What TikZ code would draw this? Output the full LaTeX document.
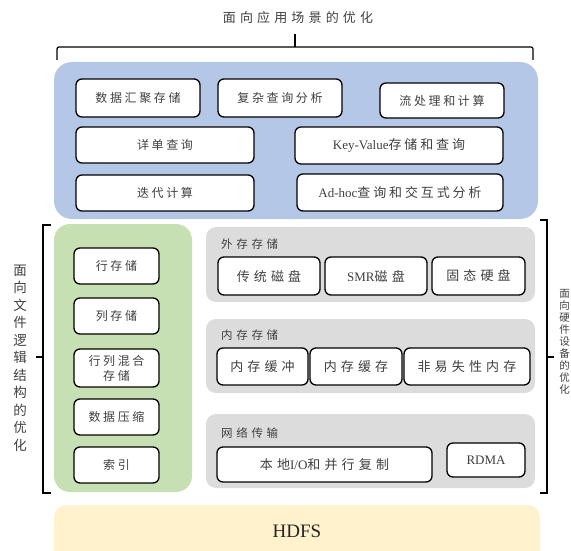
\documentclass[tikz,border=0pt]{standalone}
\usepackage{fontspec}
\setmainfont{Liberation Serif}
\newfontfamily\cj[LetterSpace=22]{Noto Sans CJK SC}
\newfontfamily\cjw[LetterSpace=32]{Noto Sans CJK SC}
\newfontfamily\cjn{Noto Sans CJK SC}
\definecolor{bluebg}{HTML}{B4C7E7}
\definecolor{greenbg}{HTML}{C6E0B4}
\definecolor{graybg}{HTML}{DCDCDC}
\definecolor{hdfsbg}{HTML}{FFF2CC}
\definecolor{txt}{HTML}{404040}
\begin{document}
\begin{tikzpicture}[x=1pt,y=-1pt,
  box/.style={draw=black, line width=1.3pt, rounded corners=6pt, fill=white, inner sep=0pt, text=txt, font=\fontsize{12}{14}\selectfont},
  gbox/.style={box, font=\fontsize{13}{15}\selectfont},
  plabel/.style={anchor=west, text=txt, inner sep=0pt, font=\fontsize{11.5}{13}\selectfont},
  brk/.style={line width=1.2pt, draw=black}]
\useasboundingbox (0,0) rectangle (571,551);
\clip (0,0) rectangle (571,551);
% title and top brace
\node[text=txt, font=\fontsize{13}{15}\selectfont] (title) at (298,18) {\cjw 面向应用场景的优化};
\coordinate (tl) at (57,60);
\coordinate (tr) at (533,60);
\coordinate (tm) at (295,34);
\draw[brk, rounded corners=2pt] (tl) -- (57,47) -- (533,47) -- (tr);
\draw[brk] (295,47) -- (tm);
% blue panel
\path[fill=bluebg, rounded corners=18pt] (54,62) rectangle (538,219);
\node[box, minimum width=124pt, minimum height=38pt] (a1) at (138,98) {\cj 数据汇聚存储};
\node[box, minimum width=124pt, minimum height=38pt] (a2) at (280,98) {\cj 复杂查询分析};
\node[box, minimum width=124pt, minimum height=35pt] (a3) at (442,100.5) {\cj 流处理和计算};
\node[box, minimum width=178pt, minimum height=36pt] (b1) at (165,145) {\cj 详单查询};
\node[box, minimum width=208pt, minimum height=37pt] (b2) at (399,145.5) {\fontsize{13}{15}\selectfont Key-Value{\cj 存储和查询}};
\node[box, minimum width=178pt, minimum height=36pt] (c1) at (165,193) {\cj 迭代计算};
\node[box, minimum width=206pt, minimum height=37pt] (c2) at (400,192.5) {\fontsize{13}{15}\selectfont Ad-hoc{\cj 查询和交互式分析}};
% green panel
\path[fill=greenbg, rounded corners=16pt] (54,224) rectangle (192,492);
\node[box, minimum width=85pt, minimum height=36pt] (g1) at (116.5,266) {\cj 行存储};
\node[box, minimum width=85pt, minimum height=36pt] (g2) at (116.5,316) {\cj 列存储};
\node[box, minimum width=85pt, minimum height=38pt, align=center, font=\fontsize{12}{15}\selectfont] (g3) at (116.5,368) {\cj 行列混合\\\cj 存储};
\node[box, minimum width=85pt, minimum height=36pt] (g4) at (116.5,417) {\cj 数据压缩};
\node[box, minimum width=85pt, minimum height=36pt] (g5) at (116.5,465) {\cj 索引};
% left bracket and label
\coordinate (lt) at (51,225);
\coordinate (lb) at (51,493);
\coordinate (lm) at (36,357);
\draw[brk] (lt) -- (43,225) -- (43,493) -- (lb);
\draw[brk] (43,357) -- (lm);
\node[text=txt, align=center, inner sep=0pt, font=\fontsize{13.5}{17.5}\selectfont] (ltext) at (20,358)
  {\cjn 面\\\cjn 向\\\cjn 文\\\cjn 件\\\cjn 逻\\\cjn 辑\\\cjn 结\\\cjn 构\\\cjn 的\\\cjn 优\\\cjn 化};
% gray panels
\path[fill=graybg, rounded corners=10pt] (206,227) rectangle (535,302);
\node[plabel] (p1) at (221,244) {\cjw 外存存储};
\node[gbox, minimum width=102pt, minimum height=38pt] (d1) at (269,276) {\cjw 传统磁盘};
\node[gbox, minimum width=102pt, minimum height=38pt] (d2) at (376,276) {SMR{\cjw 磁盘}};
\node[gbox, minimum width=93pt, minimum height=38pt] (d3) at (478.5,276) {\cjw 固态硬盘};
\path[fill=graybg, rounded corners=10pt] (206,319) rectangle (535,393);
\node[plabel] (p2) at (221,335) {\cjw 内存存储};
\node[gbox, minimum width=91pt, minimum height=37pt] (e1) at (262.5,366.5) {\cjw 内存缓冲};
\node[gbox, minimum width=92pt, minimum height=37pt] (e2) at (356,366.5) {\cjw 内存缓存};
\node[gbox, minimum width=126pt, minimum height=37pt] (e3) at (467,366.5) {\cjw 非易失性内存};
\path[fill=graybg, rounded corners=10pt] (206,414) rectangle (535,488);
\node[plabel] (p3) at (221,433) {\cjw 网络传输};
\node[gbox, minimum width=215pt, minimum height=35pt] (f1) at (324.5,464.5) {{\cjw 本地}I/O{\cjw 和并行复制}};
\node[gbox, minimum width=78pt, minimum height=34pt] (f2) at (486,460) {RDMA};
% HDFS
\path[fill=hdfsbg, rounded corners=12pt] (54,505) rectangle (540,565);
\node[text=black!85, font=\fontsize{19}{22}\selectfont] (hdfs) at (297,531) {HDFS};
% right bracket and label
\coordinate (rt) at (540,220);
\coordinate (rb) at (540,493);
\coordinate (rm) at (554,357);
\draw[brk] (rt) -- (547,220) -- (547,493) -- (rb);
\draw[brk] (547,357) -- (rm);
\node[text=txt, align=center, inner sep=0pt, font=\fontsize{10.5}{12}\selectfont] (rtext) at (564.5,341.5)
  {\cjn 面\\\cjn 向\\\cjn 硬\\\cjn 件\\\cjn 设\\\cjn 备\\\cjn 的\\\cjn 优\\\cjn 化};
\end{tikzpicture}
\end{document}
